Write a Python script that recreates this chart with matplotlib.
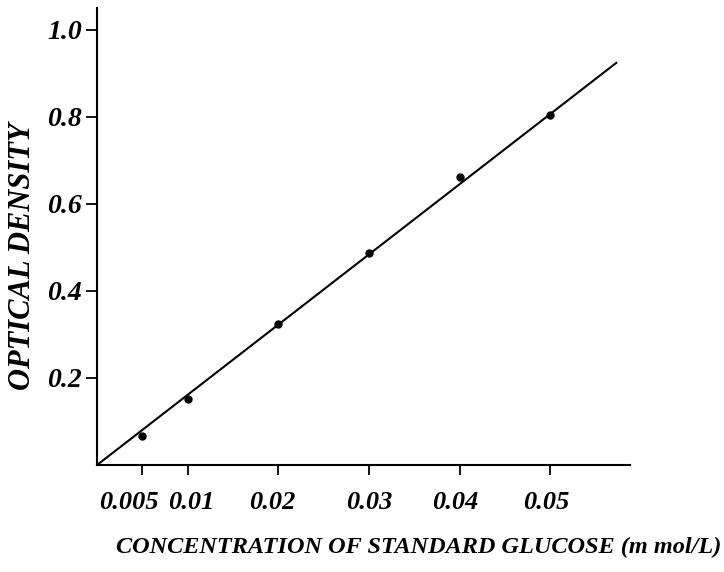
import numpy as np
import matplotlib.pyplot as plt
from matplotlib.transforms import ScaledTranslation

# standard glucose calibration
conc = [0.005, 0.01, 0.02, 0.03, 0.04, 0.05]
od = [0.067, 0.152, 0.325, 0.487, 0.662, 0.805]
xticks = [0.005, 0.01, 0.02, 0.03, 0.04, 0.05]
xticklabels = ["0.005", "0.01", "0.02", "0.03", "0.04", "0.05"]
yticks = [0.2, 0.4, 0.6, 0.8, 1.0]
yticklabels = ["0.2", "0.4", "0.6", "0.8", "1.0"]
fit_x = [0.0, 0.0573]
fit_y = [0.0, 0.924]

plt.rcParams['font.family'] = ['Liberation Serif', 'DejaVu Serif']
font = dict(style='italic', weight='bold')

fig = plt.figure(figsize=(7.24, 5.72), dpi=100)
ax = fig.add_axes([0.134, 0.187, 0.736, 0.799])

ax.plot(fit_x, fit_y, color='black', lw=1.5)
ax.plot(conc, od, 'o', color='black', ms=5)

ax.set_xlim(0, 0.0588)
ax.set_ylim(0, 1.05)
ax.spines['top'].set_visible(False)
ax.spines['right'].set_visible(False)
for s in ('left', 'bottom'):
    ax.spines[s].set_linewidth(1.5)

ax.set_xticks(xticks)
ax.set_xticklabels(xticklabels, fontsize=19, **font)
ax.set_yticks(yticks)
ax.set_yticklabels(yticklabels, fontsize=20, **font)
ax.tick_params(axis='x', direction='out', length=7, width=1.3, pad=12)
ax.tick_params(axis='y', direction='out', length=8, width=1.3, pad=3)

# nudge crowded labels apart a little
shifts = [-0.13, 0.04, -0.06, 0, -0.04, -0.04]
for lab, dx in zip(ax.get_xticklabels(), shifts):
    lab.set_transform(lab.get_transform() + ScaledTranslation(dx, 0, fig.dpi_scale_trans))

ax.set_xlabel("CONCENTRATION OF STANDARD GLUCOSE (m mol/L)", fontsize=17.5, **font)
ax.set_ylabel("OPTICAL DENSITY", fontsize=22, **font)
ax.xaxis.set_label_coords(0.604, -0.18)
ax.yaxis.set_label_coords(-0.139, 0.457)
ax.xaxis.label.set_va('center')
ax.yaxis.label.set_va('center')

fig.savefig("out.png", dpi=100)
